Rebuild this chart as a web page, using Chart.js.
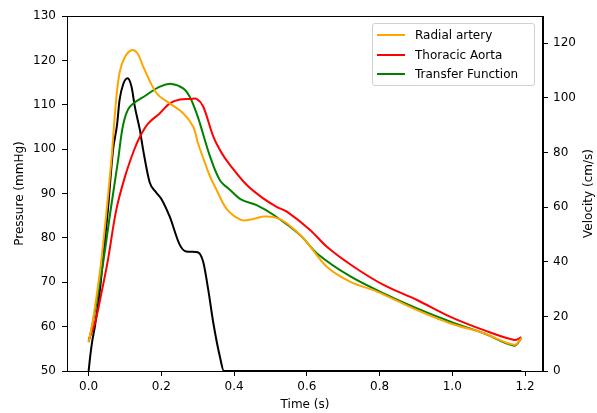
<!DOCTYPE html>
<html>
<head>
<meta charset="utf-8">
<script src="https://cdn.jsdelivr.net/npm/chart.js@4/dist/chart.umd.min.js"></script>
<style>
  html, body { margin: 0; padding: 0; background: #fff; }
  #wrap { position: relative; width: 597px; height: 413px; }
  #c { position: absolute; left: 0; top: 0; }
  #legend {
    position: absolute; left: 372px; top: 23px; width: 163px; height: 63px;
    border: 1px solid #d0d0d0; border-radius: 3px; background: rgba(255,255,255,0.85);
    font-family: 'DejaVu Sans', sans-serif; font-size: 12px; color: #000; box-sizing: border-box;
  }
  .row { position: absolute; left: 0; height: 14px; line-height: 14px; white-space: nowrap; }
  .sw { position: absolute; left: 4px; top: 6px; width: 28px; height: 2px; }
  .lb { position: absolute; left: 42px; top: 0; }
</style>
</head>
<body>
<div id="wrap">
  <canvas id="c" width="597" height="413"></canvas>
  <div id="legend"></div>
</div>
<script>
// ---- Data ----
const seriesNames = ['Radial artery', 'Thoracic Aorta', 'Transfer Function'];
const seriesColors = ['#FFA500', '#FF0000', '#008000'];

const radialT = [0, 0.012, 0.035, 0.0625, 0.074, 0.085, 0.1, 0.118, 0.135, 0.15, 0.187, 0.223, 0.26, 0.288, 0.3, 0.315, 0.334, 0.352, 0.38, 0.421, 0.45, 0.48, 0.517, 0.545, 0.591, 0.655, 0.72, 0.793, 0.903, 0.995, 1.087, 1.17, 1.19];
const radialP = [56.5, 61.5, 75.0, 97.5, 109.6, 117.2, 120.8, 122.3, 121.5, 118.6, 112.6, 110.3, 108.1, 105, 101.5, 98, 93.8, 90.8, 86.5, 84.0, 84.2, 84.8, 84.5, 83.3, 79.9, 73.5, 70.1, 67.9, 63.7, 60.7, 58.5, 55.9, 57.4];

const aortaT = [0, 0.017, 0.035, 0.053, 0.076, 0.1, 0.125, 0.141, 0.164, 0.196, 0.223, 0.251, 0.28, 0.297, 0.315, 0.343, 0.366, 0.389, 0.435, 0.48, 0.517, 0.545, 0.609, 0.655, 0.729, 0.811, 0.903, 0.995, 1.087, 1.17, 1.19];
const aortaP = [57, 60.7, 67.5, 75, 86.3, 93.8, 99.8, 102.8, 105.8, 108.1, 110.3, 111.2, 111.3, 111.3, 109.6, 102.8, 99.1, 96.4, 91.9, 88.9, 87.0, 85.9, 81.8, 78.0, 73.5, 69.4, 66.0, 62.2, 59.2, 57.0, 57.6];

const transferT = [0, 0.012, 0.04, 0.06, 0.081, 0.095, 0.113, 0.159, 0.196, 0.228, 0.26, 0.278, 0.295, 0.306, 0.334, 0.361, 0.389, 0.42, 0.462, 0.508, 0.582, 0.628, 0.72, 0.811, 0.903, 0.995, 1.087, 1.17, 1.19];
const transferP = [56.5, 61.1, 74.5, 86, 97.5, 105.5, 109.5, 112.2, 114.1, 114.7, 113.7, 111.8, 108.5, 105.8, 98.3, 93, 90.8, 88.6, 87.4, 85.2, 80.6, 76.5, 71.3, 67.5, 64.1, 61.1, 58.5, 55.7, 57.4];

const velocityT = [0, 0.004, 0.01, 0.017, 0.03, 0.039, 0.053, 0.067, 0.078, 0.085, 0.095, 0.107, 0.118, 0.127, 0.141, 0.15, 0.168, 0.185, 0.2, 0.223, 0.251, 0.268, 0.285, 0.3, 0.315, 0.329, 0.343, 0.361, 0.372, 0.6, 0.9, 1.19];
const velocityV = [0, 5, 11, 16.2, 28.5, 40, 59, 80.9, 90, 99.2, 105, 107.2, 104.1, 96.8, 88.2, 80.9, 69, 65.5, 63, 56.5, 46.1, 43.8, 43.7, 43.5, 40, 29.7, 17.5, 5.2, 0, 0, 0, 0];

const xTicks = [0, 0.2, 0.4, 0.6, 0.8, 1.0, 1.2];
const yTicks = [50, 60, 70, 80, 90, 100, 110, 120, 130];
const y2Ticks = [0, 20, 40, 60, 80, 100, 120];
const y2Title = 'Velocity (cm/s)';

// ---- Build ----
const pts = (t, v) => t.map((x, i) => ({ x: x, y: v[i] }));
const FONT = { family: "'DejaVu Sans', sans-serif", size: 12 };

const lineDs = (label, data, color, axis, mono) => ({
  label, data: data, borderColor: color, backgroundColor: color, yAxisID: axis,
  borderWidth: 2, pointRadius: 0, fill: false, showLine: true,
  tension: 0.35, cubicInterpolationMode: mono ? 'monotone' : 'default'
});

const datasets = [
  lineDs(seriesNames[0], pts(radialT, radialP), seriesColors[0], 'y', false),
  lineDs(seriesNames[1], pts(aortaT, aortaP), seriesColors[1], 'y', false),
  lineDs(seriesNames[2], pts(transferT, transferP), seriesColors[2], 'y', false),
  lineDs('Velocity', pts(velocityT, velocityV), '#000000', 'y2', true)
];

const frame = {
  id: 'frame',
  afterDraw(chart) {
    const { ctx, chartArea: a } = chart;
    ctx.save();
    ctx.strokeStyle = '#000';
    ctx.lineWidth = 1;
    ctx.strokeRect(Math.round(a.left) + 0.5, Math.round(a.top) + 0.5, Math.round(a.right - a.left) - 1, Math.round(a.bottom - a.top));
    // right axis title, reading bottom-to-top
    ctx.fillStyle = '#000';
    ctx.font = "12px 'DejaVu Sans', sans-serif";
    ctx.textAlign = 'center';
    ctx.textBaseline = 'middle';
    ctx.translate(589, (a.top + a.bottom) / 2);
    ctx.rotate(-Math.PI / 2);
    ctx.fillText(y2Title, 0, 0);
    ctx.restore();
  }
};

const setTicks = arr => scale => { scale.ticks = arr.map(v => ({ value: v })); };

new Chart(document.getElementById('c'), {
  type: 'scatter',
  data: { datasets },
  options: {
    responsive: false, animation: false,
    layout: { padding: { top: 16, left: 0, right: 0, bottom: 0 } },
    plugins: { legend: { display: false }, tooltip: { enabled: false } },
    scales: {
      x: {
        type: 'linear', min: -0.0595, max: 1.2495,
        afterBuildTicks: setTicks(xTicks),
        afterFit: s => { s.height = 42; },
        ticks: { callback: v => v.toFixed(1), color: '#000', font: FONT, padding: 4, maxRotation: 0, autoSkip: false },
        grid: { drawOnChartArea: false, tickLength: 5, tickColor: '#000', color: '#000' },
        border: { color: '#000', width: 1 },
        title: { display: true, text: 'Time (s)', color: '#000', font: FONT, padding: { top: 0, bottom: 1 } }
      },
      y: {
        type: 'linear', position: 'left', min: 50, max: 130,
        afterBuildTicks: setTicks(yTicks),
        afterFit: s => { s.width = 67; },
        ticks: { color: '#000', font: FONT, padding: 6, autoSkip: false },
        grid: { drawOnChartArea: false, tickLength: 5, tickColor: '#000', color: '#000' },
        border: { color: '#000', width: 1 },
        title: { display: true, text: 'Pressure (mmHg)', color: '#000', font: FONT, padding: { top: 13, bottom: 0 } }
      },
      y2: {
        type: 'linear', position: 'right', min: 0, max: 130,
        afterBuildTicks: setTicks(y2Ticks),
        afterFit: s => { s.width = 54; },
        ticks: { color: '#000', font: FONT, padding: 5, autoSkip: false },
        grid: { drawOnChartArea: false, tickLength: 5, tickColor: '#000', color: '#000' },
        border: { color: '#000', width: 1 },
        title: { display: false }
      }
    }
  },
  plugins: [frame]
});

// HTML legend
const lg = document.getElementById('legend');
const rowTops = [4, 24, 43];
seriesNames.forEach((n, i) => {
  const r = document.createElement('div');
  r.className = 'row';
  r.style.top = rowTops[i] + 'px';
  r.innerHTML = '<span class="sw" style="background:' + seriesColors[i] + '"></span><span class="lb">' + n + '</span>';
  lg.appendChild(r);
});
</script>
</body>
</html>
